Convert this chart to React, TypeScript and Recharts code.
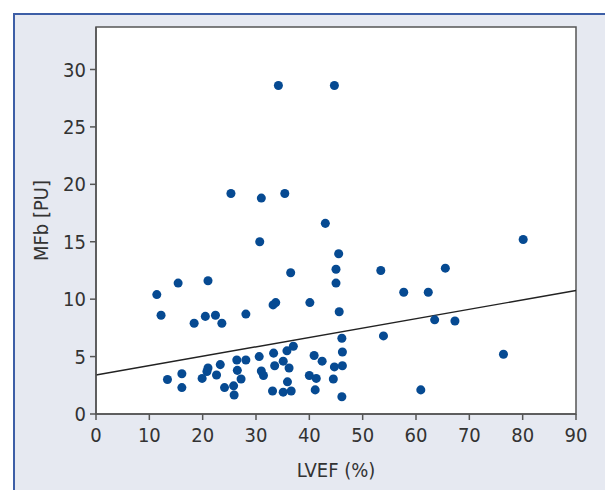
import {
  ScatterChart,
  Scatter,
  XAxis,
  YAxis,
  ZAxis,
  ReferenceArea,
  ReferenceLine,
  Label,
} from "recharts";

// LVEF (%) vs MFb [PU], one entry per patient
const lvef = [
  34.2, 44.7, 25.3, 31.0, 35.4, 43.0, 30.7, 80.1, 45.5, 45.0,
  36.5, 53.4, 65.5, 45.0, 15.4, 21.0, 11.4, 57.7, 62.3, 40.1,
  33.7, 33.2, 12.2, 20.5, 22.4, 28.1, 45.6, 18.4, 23.6, 63.5,
  67.3, 53.9, 46.1, 37.0, 35.8, 33.3, 30.6, 40.9, 46.2, 76.4,
  26.4, 28.1, 35.1, 42.4, 23.3, 33.5, 44.7, 46.2, 21.0, 20.8,
  26.5, 36.2, 16.1, 22.6, 31.0, 31.4, 40.0, 13.4, 19.9, 27.2,
  41.3, 44.5, 35.9, 16.1, 24.1, 25.8, 33.1, 35.1, 36.6, 41.1,
  60.9, 25.9, 46.1,
];
const mfb = [
  28.6, 28.6, 19.2, 18.8, 19.2, 16.6, 15.0, 15.2, 13.95, 12.6,
  12.3, 12.5, 12.7, 11.4, 11.4, 11.6, 10.4, 10.6, 10.6, 9.7,
  9.7, 9.5, 8.6, 8.5, 8.6, 8.7, 8.9, 7.9, 7.9, 8.2,
  8.1, 6.8, 6.6, 5.9, 5.5, 5.3, 5.0, 5.1, 5.4, 5.2,
  4.7, 4.7, 4.6, 4.6, 4.3, 4.2, 4.1, 4.2, 4.0, 3.7,
  3.8, 4.0, 3.5, 3.4, 3.75, 3.35, 3.35, 3.0, 3.1, 3.05,
  3.1, 3.05, 2.8, 2.3, 2.3, 2.45, 2.0, 1.9, 2.0, 2.1,
  2.1, 1.65, 1.5,
];

// linear fit end points
const fitLvef = [0, 90];
const fitMfb = [3.4, 10.75];

const xTicks = [0, 10, 20, 30, 40, 50, 60, 70, 80, 90];
const yTicks = [0, 5, 10, 15, 20, 25, 30];

const points = lvef.map((x, i) => ({ lvef: x, mfb: mfb[i] }));

const font = '"Liberation Sans Narrow", "DejaVu Sans Condensed", sans-serif';
const tickStyle = { fontSize: 20, fill: "#333", fontFamily: font };
const axisStroke = { stroke: "#555", strokeWidth: 1.5 };

export default function App() {
  return (
    <div style={{ position: "absolute", left: 0, top: 0, width: 605, height: 490, background: "#fff", overflow: "hidden" }}>
      <div
        style={{
          position: "absolute",
          left: 13,
          top: 13,
          right: 0,
          bottom: 0,
          background: "#e6e9f1",
          borderTop: "2px solid #3d5ea6",
          borderLeft: "2px solid #3d5ea6",
        }}
      />
      <div style={{ position: "absolute", left: 0, top: 0 }}>
        <ScatterChart width={605} height={490} margin={{ top: 27, right: 29, bottom: 0, left: 0 }}>
          <ReferenceArea
            x1={0}
            x2={90}
            y1={0}
            y2={33.7}
            fill="#fff"
            fillOpacity={1}
            stroke="#555"
            strokeWidth={1.5}
          />
          <XAxis
            type="number"
            dataKey="lvef"
            domain={[0, 90]}
            ticks={xTicks}
            allowDataOverflow
            height={76}
            tick={tickStyle}
            tickSize={6}
            tickMargin={8}
            axisLine={axisStroke}
            tickLine={axisStroke}
          >
            <Label
              value="LVEF (%)"
              position="insideBottom"
              offset={13}
              style={{ fontSize: 20, fill: "#333", fontFamily: font }}
            />
          </XAxis>
          <YAxis
            type="number"
            dataKey="mfb"
            domain={[0, 33.7]}
            ticks={yTicks}
            allowDataOverflow
            width={96}
            tick={tickStyle}
            tickSize={6}
            tickMargin={4}
            axisLine={axisStroke}
            tickLine={axisStroke}
          >
            <Label
              value="MFb [PU]"
              angle={-90}
              position="insideLeft"
              offset={41}
              style={{ fontSize: 20, fill: "#333", fontFamily: font, textAnchor: "middle" }}
            />
          </YAxis>
          <ZAxis range={[56, 56]} />
          <ReferenceLine
            segment={[
              { x: fitLvef[0], y: fitMfb[0] },
              { x: fitLvef[1], y: fitMfb[1] },
            ]}
            stroke="#222"
            strokeWidth={1.4}
          />
          <Scatter data={points} fill="#064a92" shape="circle" isAnimationActive={false} />
        </ScatterChart>
      </div>
    </div>
  );
}
